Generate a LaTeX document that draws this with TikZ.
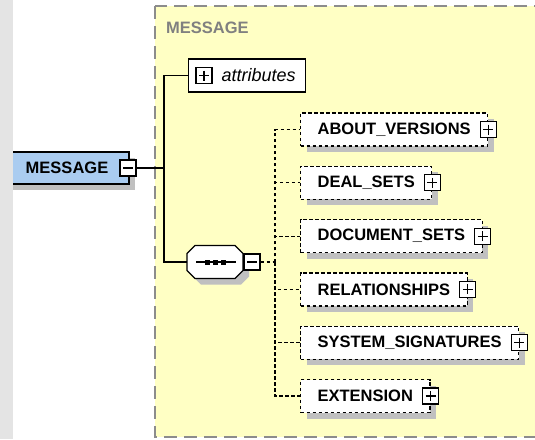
\documentclass[tikz,border=0pt]{standalone}
\usepackage{fontspec}
\setmainfont{Liberation Sans}
\usetikzlibrary{shadows}
\definecolor{schemabg}{RGB}{255,255,196}
\definecolor{schemaline}{RGB}{140,140,140}
\definecolor{elemblue}{RGB}{170,204,240}
\definecolor{shadowgray}{RGB}{192,192,192}
\definecolor{stripgray}{RGB}{228,228,228}
\definecolor{labelgray}{RGB}{128,128,128}

\tikzset{
  elemfont/.style={font=\fontsize{16.5}{18}\selectfont\bfseries},
  dropshade/.style={copy shadow={shadow xshift=6pt, shadow yshift=-6pt, fill=shadowgray, draw=none}},
  rootbox/.style={draw, line width=1.2pt, fill=elemblue, elemfont, minimum width=124pt, minimum height=32pt, inner sep=0pt, dropshade},
  childbox/.style={draw, fill=white, line width=1.2pt, dash pattern=on 3.5pt off 2.5pt, elemfont, minimum height=33pt, inner xsep=17pt, inner ysep=0pt, anchor=west, dropshade},
  attrbox/.style={draw, line width=1.2pt, fill=white, font=\fontsize{18}{20}\selectfont\itshape, minimum height=33pt, inner xsep=10pt, inner ysep=0pt, anchor=west},
  seqbox/.style={minimum width=56pt, minimum height=33pt, inner sep=0pt},
  pmbox/.style={draw, fill=white, line width=1.2pt, minimum size=16pt, inner sep=0pt},
  plusbox/.style={pmbox, path picture={
      \draw[line width=1.2pt] ([yshift=-3pt]path picture bounding box.north) -- ([yshift=3pt]path picture bounding box.south);
      \draw[line width=1.2pt] ([xshift=3pt]path picture bounding box.west) -- ([xshift=-3pt]path picture bounding box.east);}},
  minusbox/.style={pmbox, path picture={
      \draw[line width=1.2pt] ([xshift=3pt]path picture bounding box.west) -- ([xshift=-3pt]path picture bounding box.east);}},
  link/.style={line width=1.2pt},
  optlink/.style={line width=1.2pt, dash pattern=on 3.5pt off 2.5pt},
}

\begin{document}
\begin{tikzpicture}[x=1pt, y=-1pt]
\useasboundingbox (0,0) rectangle (535,439);
\fill[white] (0,0) rectangle (535,439);

% group box
\draw[schemaline, fill=schemabg, line width=1.3pt, dash pattern=on 13pt off 7pt] (155,6) rectangle (560,437);
\node[elemfont, text=labelgray, anchor=west, inner sep=0pt] (grp) at (166,28) {MESSAGE};

% root element
\node[rootbox] (msg) at (67,168) {MESSAGE};
\node[minusbox] (msgm) at (128,168) {};
\fill[stripgray] (0,0) rectangle (13,439);

% attributes and sequence
\node[attrbox] (attr) at (188,75.5) {\hspace*{23pt}attributes};
\node[plusbox] (attrp) at (204,75.5) {};

\node[seqbox] (seq) at (215,262) {};
\fill[shadowgray, shift={(6,6)}] (187,253.5) -- (195,245.5) -- (235,245.5) -- (243,253.5)
  -- (243,270.5) -- (235,278.5) -- (195,278.5) -- (187,270.5) -- cycle;
\filldraw[link, fill=white] (187,253.5) -- (195,245.5) -- (235,245.5) -- (243,253.5)
  -- (243,270.5) -- (235,278.5) -- (195,278.5) -- (187,270.5) -- cycle;
\draw[link] (196,262) -- (236,262);
\foreach \x in {207,215,223}
  \fill (\x-2.5,259.5) rectangle (\x+2.5,264.5);
\node[minusbox] (seqm) at (252,262) {};

\coordinate (jn) at (164,168);
\draw[link] (msgm.east) -- (jn);
\draw[link] (attr.west) -| (jn) |- (seq.west);

% children
\foreach \name/\txt [count=\i from 0] in {aboutversions/ABOUT\_VERSIONS, dealsets/DEAL\_SETS, docsets/DOCUMENT\_SETS, relations/RELATIONSHIPS, syssigs/SYSTEM\_SIGNATURES, extension/EXTENSION} {
  \node[childbox] (\name) at (300,129.5+53.3*\i) {\txt};
  \node[plusbox] (\name-p) at (\name.east) {};
}

\coordinate (sj) at (275,262);
\draw[optlink] (seqm.east) -- (sj);
\foreach \name in {aboutversions, dealsets, docsets, relations, syssigs, extension}
  \draw[optlink] (sj) |- (\name.west);
\end{tikzpicture}
\end{document}
